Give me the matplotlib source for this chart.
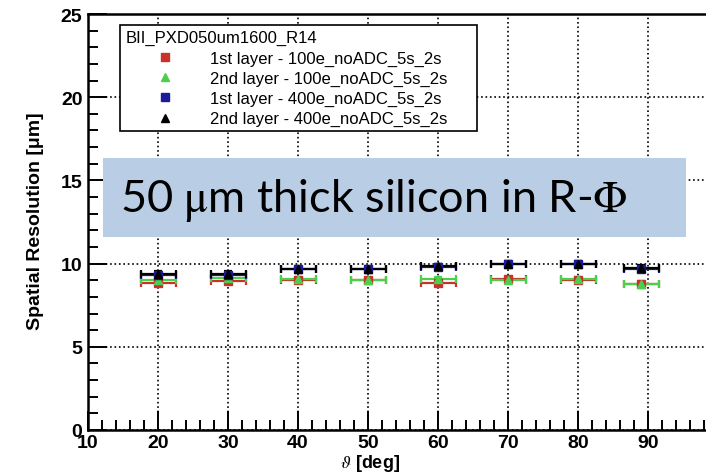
import matplotlib.pyplot as plt
from matplotlib.patches import Rectangle
from matplotlib.ticker import MultipleLocator

theta = [20, 30, 40, 50, 60, 70, 80, 89]
res_l1_100 = [8.85, 8.95, 9.0, 9.0, 8.85, 9.05, 9.0, 8.8]
res_l2_100 = [9.0, 9.15, 9.05, 9.0, 9.05, 9.0, 9.05, 8.75]
res_l1_400 = [9.3, 9.3, 9.65, 9.65, 9.8, 10.0, 10.0, 9.7]
res_l2_400 = [9.4, 9.4, 9.7, 9.7, 9.85, 10.0, 10.0, 9.75]
x_err = 2.5
y_err = 0.15

xticks = [10, 20, 30, 40, 50, 60, 70, 80, 90, 100]
xtick_labels = ['10', '20', '30', '40', '50', '60', '70', '80', '90', '']

labels = ['1st layer - 100e_noADC_5s_2s', '2nd layer - 100e_noADC_5s_2s',
          '1st layer - 400e_noADC_5s_2s', '2nd layer - 400e_noADC_5s_2s']
colors = ['#c8322a', '#4ccf4c', '#1a1a9a', 'black']
markers = ['s', '^', 's', '^']
series = [res_l1_100, res_l2_100, res_l1_400, res_l2_400]

plt.rcParams['font.family'] = ['Liberation Sans', 'DejaVu Sans']
plt.rcParams['mathtext.fontset'] = 'stix'

fig = plt.figure(figsize=(7.06, 4.77), dpi=100)
W, H = 706, 477
ax = fig.add_axes([88 / W, 1 - 431 / H, 630 / W, 416 / H])

handles = []
for y, c, m, lab in zip(series, colors, markers, labels):
    ax.errorbar(theta, y, xerr=x_err, yerr=y_err, fmt='none', ecolor=c,
                elinewidth=1.6, capsize=3, capthick=1.6, zorder=3)
    h, = ax.plot(theta, y, ls='none', marker=m, ms=6, color=c, zorder=4, label=lab)
    handles.append(h)

ax.set_xlim(10, 100)
ax.set_ylim(0, 25)
ax.set_xticks(xticks, labels=xtick_labels)
ax.xaxis.set_minor_locator(MultipleLocator(2))
ax.yaxis.set_major_locator(MultipleLocator(5))
ax.yaxis.set_minor_locator(MultipleLocator(1))
ax.grid(True, which='major', ls=':', color='black', lw=1.2)
ax.tick_params(which='both', direction='in', top=False, right=False, width=1.4)
ax.tick_params(which='major', length=14, labelsize=14)
ax.tick_params(which='minor', length=7)
ax.tick_params(axis='x', pad=3)
ax.tick_params(axis='y', pad=4)
for lbl in ax.get_xticklabels() + ax.get_yticklabels():
    lbl.set_fontweight('bold')
for s in ax.spines.values():
    s.set_linewidth(1.8)

ax.set_xlabel(r'$\vartheta$ [deg]', fontsize=13, fontweight='bold', va='top')
ax.xaxis.set_label_coords(0.448, -0.052)
ax.set_ylabel('Spatial Resolution [μm]', fontsize=14, fontweight='bold')
ax.yaxis.set_label_coords(-0.07, 0.505)

leg = ax.legend(handles=handles, title='BII_PXD050um1600_R14', loc='upper left',
                bbox_to_anchor=(0.051, 0.723, 0.566, 0.25), mode='expand',
                fontsize=12, title_fontsize=12, alignment='left', fancybox=False,
                framealpha=1, edgecolor='black', handletextpad=0.3, borderpad=0.3,
                labelspacing=0.3, markerscale=0.85, borderaxespad=0, handlelength=4.8)
leg.get_frame().set_linewidth(1.2)
leg._legend_box.sep = 4

fig.add_artist(Rectangle((103 / W, 1 - 238 / H), 583 / W, 79 / H,
                         transform=fig.transFigure, facecolor='#b9cde5',
                         edgecolor='none', zorder=10))
fig.text(120 / W, 1 - 201 / H, r'50 $\mathrm{\mu}$m thick silicon in R-$\mathrm{\Phi}$',
         fontsize=32.5, family=['Lato', 'DejaVu Sans'], va='center', ha='left', zorder=11)

fig.savefig('out.png', dpi=100)
